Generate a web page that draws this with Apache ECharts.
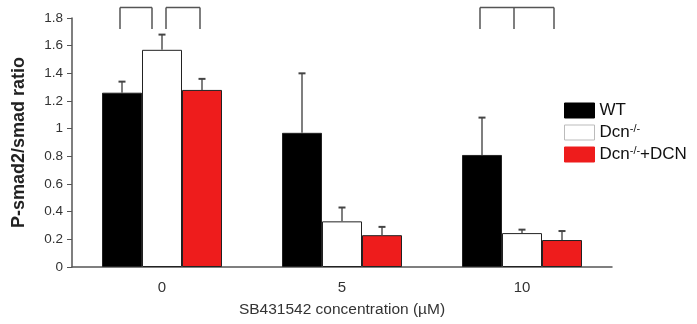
<!DOCTYPE html>
<html><head><meta charset="utf-8">
<script src="https://cdn.jsdelivr.net/npm/echarts@6/dist/echarts.min.js"></script>
<style>html,body{margin:0;padding:0;background:#fff}#c{width:697px;height:324px}</style>
</head><body><div id="c"></div>
<script>
// ---- data ----
const categories = ['0', '5', '10'];
const seriesNames = ['WT', 'Dcn-/-', 'Dcn-/-+DCN'];
const wtValues = [1.26, 0.97, 0.81];
const wtErrors = [0.08, 0.43, 0.27];
const dcnValues = [1.57, 0.33, 0.245];
const dcnErrors = [0.11, 0.10, 0.025];
const rescueValues = [1.28, 0.23, 0.195];
const rescueErrors = [0.08, 0.06, 0.065];
const yTicks = [0, 0.2, 0.4, 0.6, 0.8, 1, 1.2, 1.4, 1.6, 1.8];
// significance brackets: [category index, list of bar indices joined]
const brackets = [[0, [0, 1]], [0, [1, 2]], [2, [0, 1, 2]]];

// ---- styles ----
const colors = ['#000000', '#ffffff', '#ee1c1c'];
const BAR_W = 40;
const bracketAnchor = [[0.45, 0.25], [0.6, 0.45], [0.45, 0.3, 0.3]];
const bracketTop = 1.876, bracketBottom = 1.72;

const allValues = [wtValues, dcnValues, rescueValues];
const allErrors = [wtErrors, dcnErrors, rescueErrors];

const chart = echarts.init(document.getElementById('c'), null, {renderer: 'canvas'});

const barSeries = seriesNames.map((n, i) => ({
  name: n, type: 'bar', data: allValues[i], barWidth: BAR_W, barGap: '0%',
  itemStyle: {color: colors[i], borderColor: '#222', borderWidth: 1}, z: 2
}));

const errSeries = allValues.map((vals, si) => ({
  type: 'custom', z: 3, silent: true,
  data: vals.map((v, k) => [k, v, v + allErrors[si][k]]),
  renderItem: function (params, api) {
    const c0 = api.coord([api.value(0), api.value(1)]);
    const c1 = api.coord([api.value(0), api.value(2)]);
    const x = c0[0] + (si - 1) * BAR_W;
    return {type: 'group', children: [
      {type: 'line', shape: {x1: x, y1: c0[1], x2: x, y2: c1[1]}, style: {stroke: '#555', lineWidth: 1.5}},
      {type: 'line', shape: {x1: x - 3.5, y1: c1[1], x2: x + 3.5, y2: c1[1]}, style: {stroke: '#444', lineWidth: 2}}
    ]};
  }
}));

const bracketSeries = {
  type: 'custom', z: 3, silent: true, clip: false,
  data: brackets.map((b, i) => [b[0], i]),
  renderItem: function (params, api) {
    const idx = api.value(1);
    const b = brackets[idx];
    const top = api.coord([b[0], bracketTop]);
    const bot = api.coord([b[0], bracketBottom]);
    const xs = b[1].map((bi, j) => top[0] + (bi - 1.5) * BAR_W + bracketAnchor[idx][j] * BAR_W);
    const children = [{type: 'line', shape: {x1: xs[0], y1: top[1], x2: xs[xs.length - 1], y2: top[1]}, style: {stroke: '#555', lineWidth: 1.5}}];
    xs.forEach(x => children.push({type: 'line', shape: {x1: x, y1: top[1], x2: x, y2: bot[1]}, style: {stroke: '#555', lineWidth: 1.5}}));
    return {type: 'group', children: children};
  }
};

chart.setOption({
  animation: false,
  textStyle: {fontFamily: 'Liberation Sans, Arial, sans-serif'},
  grid: {left: 72, right: 85, top: 18, bottom: 57},
  legend: {
    orient: 'vertical', left: 559, top: 97, itemWidth: 30, itemHeight: 15, itemGap: 4.5,
    icon: 'rect',
    data: seriesNames.map((n, i) => ({name: n, icon: 'rect', itemStyle: {color: colors[i], borderColor: i === 1 ? '#bbb' : colors[i], borderWidth: 1}})),
    formatter: function (n) {
      if (n === 'WT') return '{b|WT}';
      if (n === 'Dcn-/-') return '{b|Dcn}{s|-/-}';
      return '{b|Dcn}{s|-/-}{b|+DCN}';
    },
    textStyle: {
      color: '#111', fontSize: 17,
      rich: {b: {fontSize: 17, lineHeight: 18, color: '#111'}, s: {fontSize: 11, lineHeight: 10, verticalAlign: 'top', color: '#111'}}
    }
  },
  xAxis: {
    type: 'category', data: categories,
    axisTick: {show: false},
    axisLine: {lineStyle: {color: '#555', width: 1.5}},
    axisLabel: {fontSize: 15, color: '#333', margin: 13},
    name: 'SB431542 concentration (\u00b5M)', nameLocation: 'middle', nameGap: 35,
    nameTextStyle: {fontSize: 15.5, color: '#333'}
  },
  yAxis: {
    type: 'value', min: yTicks[0], max: yTicks[yTicks.length - 1], interval: yTicks[1] - yTicks[0],
    splitLine: {show: false},
    axisLine: {show: true, lineStyle: {color: '#555', width: 1.5}},
    axisTick: {show: true, length: 5, lineStyle: {color: '#555'}},
    axisLabel: {fontSize: 13.5, color: '#333', margin: 9},
    name: 'P-smad2/smad ratio', nameLocation: 'middle', nameGap: 44,
    nameTextStyle: {fontSize: 18, fontWeight: 'bold', color: '#222'}
  },
  series: [...barSeries, ...errSeries, bracketSeries]
});
</script></body></html>
